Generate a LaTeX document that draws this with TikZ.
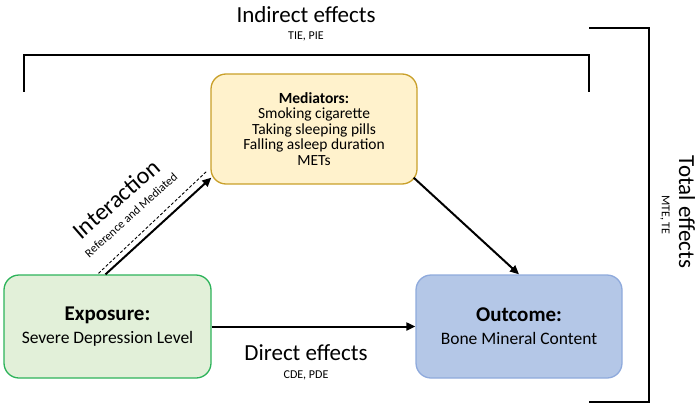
\documentclass[tikz,border=0pt]{standalone}
\usepackage{fontspec}
\setmainfont{Carlito}
\usetikzlibrary{arrows.meta,positioning,calc}
\definecolor{expofill}{HTML}{E2F0D9}
\definecolor{expodraw}{HTML}{2DB35A}
\definecolor{medfill}{HTML}{FFF2CC}
\definecolor{meddraw}{HTML}{C9A02A}
\definecolor{outfill}{HTML}{B4C7E7}
\definecolor{outdraw}{HTML}{8FAADC}
\newcommand{\fsz}[2]{\fontsize{#1}{#2}\selectfont}
\tikzset{
  effectbox/.style={rounded corners=15pt,line width=1.3pt,align=center,inner sep=0pt},
  exposurebox/.style={effectbox,draw=expodraw,fill=expofill,minimum width=207pt,minimum height=103pt},
  mediatorbox/.style={effectbox,draw=meddraw,fill=medfill,minimum width=206pt,minimum height=110pt},
  outcomebox/.style={effectbox,draw=outdraw,fill=outfill,minimum width=206pt,minimum height=103pt},
  causalarrow/.style={-{Triangle[length=9pt,width=8pt]},line width=2pt},
  bracketline/.style={line width=1.8pt},
  effectlabel/.style={font=\fsz{23}{27},inner sep=0pt},
  effectnote/.style={font=\fsz{12}{14},inner sep=0pt}
}

\begin{document}
\begin{tikzpicture}[x=1pt,y=-1pt]
  \useasboundingbox (0,0) rectangle (700,409);

  % boxes
  \node[exposurebox,font=\fsz{17.5}{23}] (exposure) at (107.5,326.5)
    {{\fsz{21}{23}\bfseries Exposure:}\\Severe Depression Level};
  \node[mediatorbox,font=\fsz{15.5}{15.5}] (mediators) at (314,129)
    {\textbf{Mediators:}\\Smoking cigarette\\Taking sleeping pills\\Falling asleep duration\\METs};
  \node[outcomebox,font=\fsz{17.5}{23}] (outcome) at (519,326.5)
    {{\fsz{21}{23}\bfseries Outcome:}\\Bone Mineral Content};

  % connectors
  \draw[dash pattern=on 3pt off 2pt,line width=0.9pt]
    ($(exposure.north)+(-9,-1)$) -- ($(mediators.south west)+(-3,-14)$);
  \draw[causalarrow] ($(exposure.north)+(-2,0)$) -- ($(mediators.south west)+(1,-7)$);
  \draw[causalarrow] ($(mediators.south east)+(-4,-7)$) -- (outcome.north);
  \draw[causalarrow] (exposure.east) -- (outcome.west);

  % brackets
  \draw[bracketline] (24,92) -- (24,55) -- (589,55) -- (589,92);
  \draw[bracketline] (589,28) -- (649,28) -- (649,402) -- (589,402);

  % labels
  \node[effectlabel] (indirect) at (306,15) {Indirect effects};
  \node[effectnote] (indirectnote) at (306,36) {TIE, PIE};
  \node[effectlabel] (direct) at (306,353) {Direct effects};
  \node[effectnote] (directnote) at (306,375) {CDE, PDE};
  \node[effectlabel,rotate=-90] (total) at (687,212) {Total effects};
  \node[effectnote,rotate=-90] (totalnote) at (665,215) {MTE, TE};
  \node[effectlabel,font=\fsz{24}{28},rotate=41] (interaction) at (116,199) {Interaction};
  \node[effectnote,rotate=42] (interactionnote) at (131,215) {Reference and Mediated};
\end{tikzpicture}
\end{document}
